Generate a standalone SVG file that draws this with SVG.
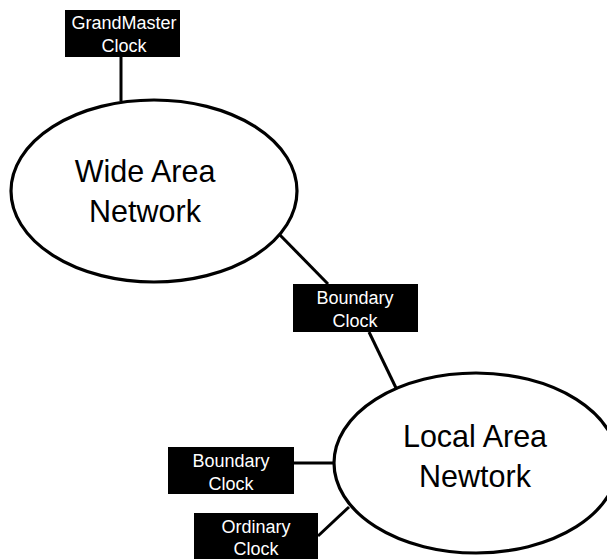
<svg xmlns="http://www.w3.org/2000/svg" width="607" height="559" viewBox="0 0 607 559">
  <style>
    .net { fill: #ffffff; stroke: #000000; stroke-width: 3.2; }
    .net-label { font-family: "Liberation Sans", Arial, sans-serif; font-size: 30.5px; fill: #000000; text-anchor: middle; }
    .clock { fill: #000000; }
    .clock-label { font-family: "Liberation Sans", Arial, sans-serif; font-size: 18px; fill: #ffffff; text-anchor: middle; }
    .link { stroke: #000000; stroke-width: 3; fill: none; }
  </style>
  <rect width="607" height="559" fill="#ffffff"/>

  <!-- links between clocks and networks -->
  <g id="connectors">
    <line class="link" x1="121" y1="57" x2="121" y2="101"/>
    <line class="link" x1="278" y1="233" x2="328" y2="284"/>
    <line class="link" x1="369" y1="332" x2="397" y2="390"/>
    <line class="link" x1="294" y1="463" x2="334" y2="463"/>
    <line class="link" x1="318" y1="536" x2="349" y2="507"/>
  </g>

  <g id="wan">
    <ellipse class="net" cx="154" cy="191" rx="143" ry="91"/>
    <text class="net-label" x="145" y="182">Wide Area</text>
    <text class="net-label" x="145" y="222">Network</text>
  </g>

  <g id="lan">
    <ellipse class="net" cx="476" cy="463" rx="142" ry="90"/>
    <text class="net-label" x="475" y="447">Local Area</text>
    <text class="net-label" x="475" y="487">Newtork</text>
  </g>

  <g id="grandmaster-clock">
    <rect class="clock" x="65" y="10" width="115" height="47"/>
    <text class="clock-label" x="124" y="29">GrandMaster</text>
    <text class="clock-label" x="124" y="52">Clock</text>
  </g>

  <g id="boundary-clock-wan">
    <rect class="clock" x="293" y="284" width="125" height="48"/>
    <text class="clock-label" x="355" y="304">Boundary</text>
    <text class="clock-label" x="355" y="327">Clock</text>
  </g>

  <g id="boundary-clock-lan">
    <rect class="clock" x="168" y="447" width="126" height="47"/>
    <text class="clock-label" x="231" y="467">Boundary</text>
    <text class="clock-label" x="231" y="490">Clock</text>
  </g>

  <g id="ordinary-clock">
    <rect class="clock" x="194" y="513" width="124" height="46"/>
    <text class="clock-label" x="256" y="533">Ordinary</text>
    <text class="clock-label" x="256" y="555">Clock</text>
  </g>
</svg>
